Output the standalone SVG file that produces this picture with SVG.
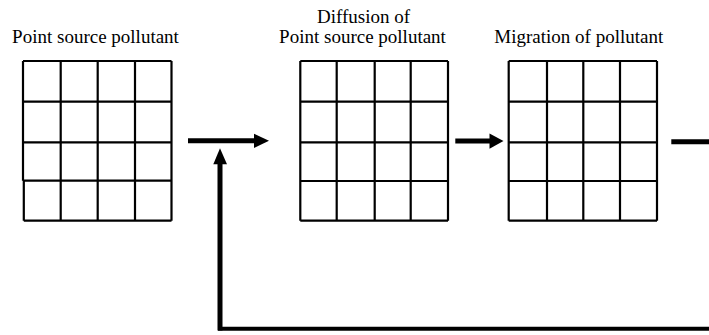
<svg xmlns="http://www.w3.org/2000/svg" width="709" height="335" viewBox="0 0 709 335">
<defs>
<style>
.lbl{font-family:"Liberation Serif","Times New Roman",serif;font-size:19px;fill:#000;text-anchor:middle}
.grid{fill:none;stroke:#000;stroke-width:2.2}
.conn{fill:none;stroke:#000;stroke-width:5}
.head{fill:#000;stroke:none}
</style>
</defs>
<rect width="709" height="335" fill="#fff"/>
<g id="node-point-source">
<text class="lbl" x="95.5" y="43.3">Point source pollutant</text>
<path class="grid" d="M23,61H171.5M23,101.7H171.5M23,142.3H171.5M23.8,180.7H171.5M23.8,220.7H171.5M23,61V180.7M23.8,180.7V220.7M60.7,61V220.7M97.7,61V220.7M135,61V220.7M171.5,61V220.7"/>
</g>
<g id="node-diffusion">
<text class="lbl" x="363.5" y="22.7">Diffusion of</text>
<text class="lbl" x="362.5" y="43.3">Point source pollutant</text>
<path class="grid" d="M300.3,61H448M300.3,101.7H448M300.3,142.3H448M300.3,181H448M300.3,220.7H448M300.3,61V220.7M336.7,61V220.7M374.7,61V220.7M410.7,61V220.7M448,61V220.7"/>
</g>
<g id="node-migration">
<text class="lbl" x="578.8" y="43.3">Migration of pollutant</text>
<path class="grid" d="M508.7,61H657M508.7,101.7H657M508.7,142.3H657M508.7,181H657M508.7,220.7H657M508.7,61V220.7M547,61V220.7M583.3,61V220.7M620,61V220.7M657,61V220.7"/>
</g>
<g id="connectors">
<path class="conn" d="M188,140.8H256"/>
<polygon class="head" points="254,133.7 269,140.8 254,148"/>
<path class="conn" d="M455.3,141H491"/>
<polygon class="head" points="489.5,133.5 503.5,141 489.5,148.7"/>
<path class="conn" d="M671.3,141.7H709"/>
<path class="conn" d="M220,330.5V162"/>
<polygon class="head" points="213.3,164.3 220,148.3 227,164.3"/>
<path fill="none" stroke="#000" stroke-width="4" d="M218,328.7H709"/>
</g>
</svg>
